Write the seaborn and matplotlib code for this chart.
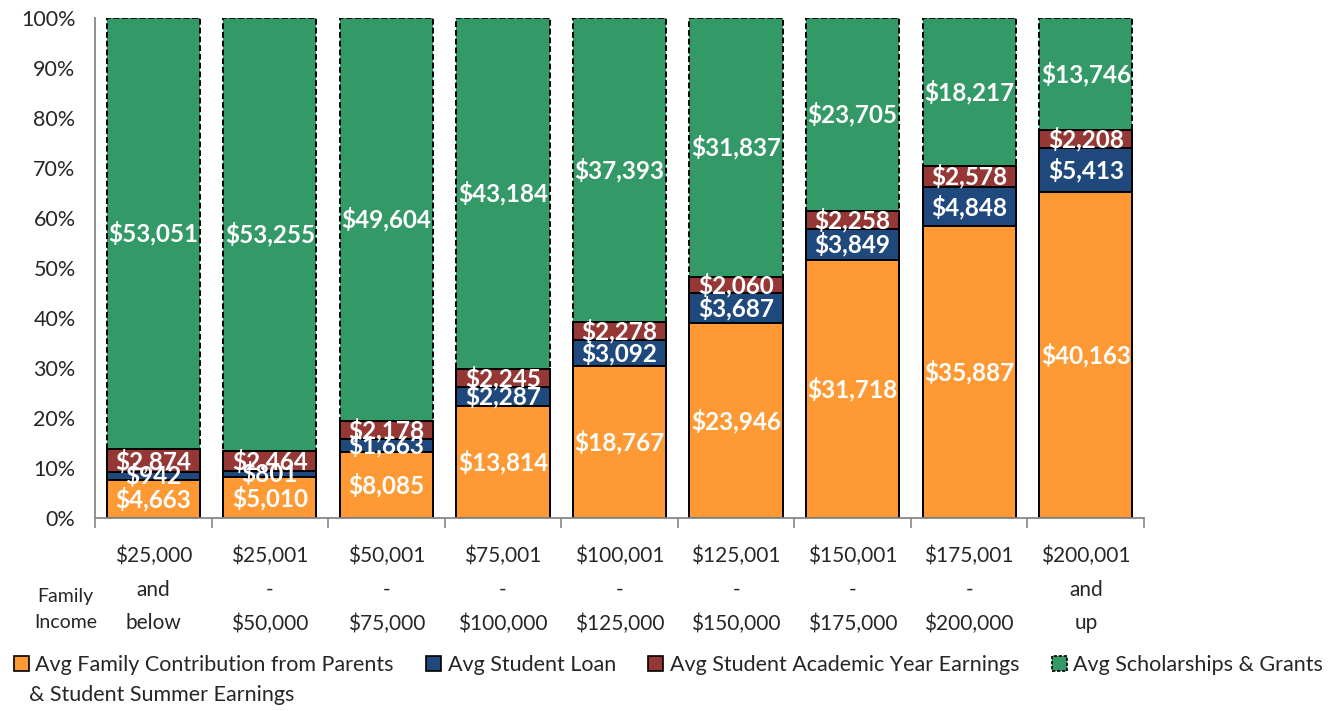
import matplotlib as mpl
import matplotlib.pyplot as plt
import numpy as np
import pandas as pd
import seaborn as sns
from matplotlib.patches import Patch

# --- data ---
INCOME = [
    "$25,000\nand\nbelow",
    "$25,001\n-\n$50,000",
    "$50,001\n-\n$75,000",
    "$75,001\n-\n$100,000",
    "$100,001\n-\n$125,000",
    "$125,001\n-\n$150,000",
    "$150,001\n-\n$175,000",
    "$175,001\n-\n$200,000",
    "$200,001\nand\nup",
]
parents = [4663, 5010, 8085, 13814, 18767, 23946, 31718, 35887, 40163]
loan = [942, 801, 1663, 2287, 3092, 3687, 3849, 4848, 5413]
academic = [2874, 2464, 2178, 2245, 2278, 2060, 2258, 2578, 2208]
scholarships = [53051, 53255, 49604, 43184, 37393, 31837, 23705, 18217, 13746]

SERIES = ["parents", "loan", "academic", "scholarships"]
LABELS = [
    "Avg Family Contribution from Parents",
    "Avg Student Loan",
    "Avg Student Academic Year Earnings",
    "Avg Scholarships & Grants",
]
colors = {
    "parents": "#FF9933",
    "loan": "#1F497D",
    "academic": "#953735",
    "scholarships": "#339966",
}

df = pd.DataFrame(
    {
        "income": INCOME,
        "parents": parents,
        "loan": loan,
        "academic": academic,
        "scholarships": scholarships,
    }
)
total = df[SERIES].sum(axis=1)
pct = df[SERIES].div(total, axis=0) * 100
cum = pct.cumsum(axis=1)

sns.set_theme(style="white")
plt.rcParams["font.family"] = ["Lato", "DejaVu Sans"]

fig = plt.figure(figsize=(13.34, 7.11), dpi=100)
ax = fig.add_axes([0.0712, 0.2714, 0.7864, 0.7033])

# draw from the top layer down so each cumulative bar covers the one behind
for s in reversed(SERIES):
    plot_df = pd.DataFrame({"income": INCOME, "value": cum[s].values})
    sns.barplot(
        data=plot_df,
        x="income",
        y="value",
        order=INCOME,
        color=colors[s],
        saturation=1,
        width=0.8,
        edgecolor="black",
        linewidth=1.4,
        linestyle=(0, (3, 1.5)) if s == "scholarships" else "-",
        ax=ax,
    )

# value labels
for i in range(len(INCOME)):
    for s in SERIES:
        top = cum.loc[i, s]
        mid = top - pct.loc[i, s] / 2
        ax.text(
            i,
            mid,
            f"${df.loc[i, s]:,}",
            ha="center",
            va="center",
            color="white",
            fontsize=17.5,
            fontweight="bold",
        )

ax.set_xlim(-0.5, len(INCOME) - 0.5)
ax.set_ylim(0, 100)
ax.yaxis.set_major_locator(mpl.ticker.MultipleLocator(10))
ax.yaxis.set_major_formatter(mpl.ticker.FuncFormatter(lambda v, _: f"{v:.0f}%"))
ax.set_xlabel("")
ax.set_ylabel("")

ax.set_xticks(range(len(INCOME)))
ax.set_xticklabels(INCOME, fontsize=15, linespacing=1.85)
ax.set_xticks(np.arange(-0.5, len(INCOME)), minor=True)
ax.tick_params(axis="x", which="major", length=0, pad=20)
ax.tick_params(axis="x", which="minor", length=7, width=1.2, color="#888888", direction="out")
ax.tick_params(axis="y", length=6, width=1.2, color="#888888", direction="out",
               labelsize=15.5, pad=8)
ax.tick_params(axis="x", bottom=True, which="both")

for side in ["top", "right"]:
    ax.spines[side].set_visible(False)
for side in ["left", "bottom"]:
    ax.spines[side].set_color("#888888")
    ax.spines[side].set_linewidth(1.3)

fig.text(0.049, 0.143, "Family\nIncome", ha="center", va="center",
         fontsize=14, linespacing=1.6)

# legend
handles = [
    Patch(facecolor=colors[s], edgecolor="black", linewidth=1.2,
          linestyle=(0, (2, 1)) if s == "scholarships" else "-")
    for s in SERIES
]
fig.legend(
    handles,
    LABELS,
    loc="center left",
    bbox_to_anchor=(0.004, 0.065),
    ncol=4,
    frameon=False,
    fontsize=15.5,
    handlelength=0.7,
    handleheight=0.7,
    handletextpad=0.3,
    columnspacing=1.5,
    borderaxespad=0,
)
fig.text(0.022, 0.022, "& Student Summer Earnings", ha="left", va="center",
         fontsize=15.5)

plt.savefig("out.png", dpi=100)
